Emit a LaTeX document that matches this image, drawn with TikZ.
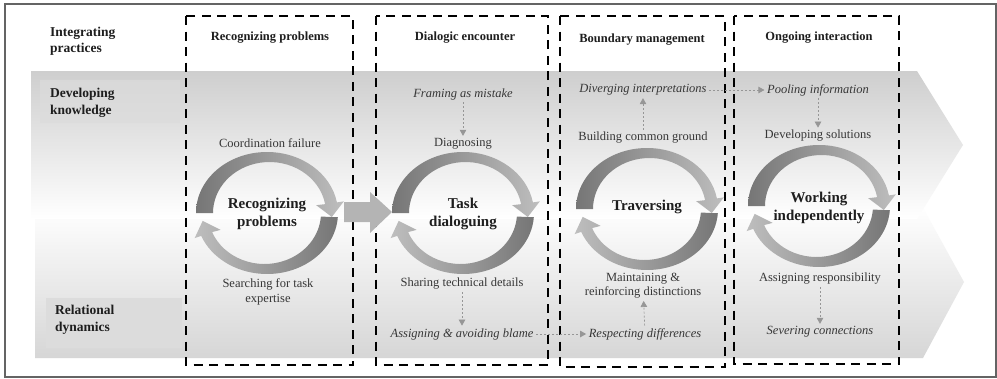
\documentclass[tikz,border=0pt]{standalone}
\usepackage{fontspec}
\setmainfont{Liberation Serif}
\usetikzlibrary{arrows.meta}
\definecolor{textdark}{RGB}{30,30,30}
\definecolor{textgray}{RGB}{55,55,55}
\definecolor{arcdark}{RGB}{118,118,118}
\definecolor{arclight}{RGB}{190,190,190}
\definecolor{bandgray}{RGB}{206,206,206}
\definecolor{bandlow}{RGB}{214,214,214}
\definecolor{boxgray}{RGB}{220,220,220}
\definecolor{dotgray}{RGB}{150,150,150}
\definecolor{bigarrow}{RGB}{180,180,180}
\definecolor{framegray}{RGB}{100,100,100}
\begin{document}
\begin{tikzpicture}[x=1pt,y=-1pt,
  txt/.style={font=\fontsize{12.5}{14.5}\selectfont, text=textgray, inner sep=1.5pt, align=center},
  itx/.style={font=\fontsize{12.5}{14.5}\selectfont\itshape, text=textgray, inner sep=1.5pt, align=center},
  hdr/.style={font=\fontsize{12.5}{15}\selectfont\bfseries, text=textdark, inner sep=1pt},
  lbl/.style={font=\fontsize{13.5}{16.5}\selectfont\bfseries, text=textdark, align=left, anchor=west, inner sep=0pt},
  inr/.style={font=\fontsize{15}{18}\selectfont\bfseries, text=textdark, align=center, inner sep=0pt},
  dashbox/.style={draw=black, line width=2.6pt, dash pattern=on 9pt off 6.5pt},
  dotarrow/.style={draw=dotgray, line width=0.7pt, dash pattern=on 2pt off 2pt,
     -{Triangle[width=6.5pt,length=6pt,fill=dotgray]}, shorten >=1pt, shorten <=1pt},
  ring/.pic={
    \shade[left color=arcdark, right color=arclight]
      (180:71 and 61) arc[start angle=180,end angle=350,x radius=71,y radius=61]
      -- (350:78 and 67) -- (364:65 and 57) -- (350:50 and 45)
      -- ([shift={(2.5,0)}]350:56.5 and 51)
      arc[start angle=350,end angle=180,x radius=56.5,y radius=51] -- cycle;
    \shade[left color=arclight, right color=arcdark]
      (4:71 and 61) arc[start angle=4,end angle=158,x radius=71,y radius=61]
      -- (158:78 and 67) -- (172:65 and 57) -- (158:50 and 45)
      -- ([shift={(-2.5,0)}]158:56.5 and 51)
      arc[start angle=158,end angle=4,x radius=56.5,y radius=51] -- cycle;
  }]
\useasboundingbox (0,0) rectangle (997,378);
\fill[white] (0,0) rectangle (997,378);

% background chevrons
\shade[top color=white, bottom color=bandlow]
  (35,206) -- (922,206) -- (964,282) -- (923,358) -- (35,358) -- cycle;
\shade[top color=bandgray, bottom color=white]
  (31,71) -- (917,71) -- (963,145) -- (917,219) -- (31,219) -- cycle;

% row label boxes
\fill[boxgray, opacity=0.7] (40,80) rectangle (180,123);
\fill[boxgray] (46,298) rectangle (182,348);

% outer frame
\draw[framegray, line width=1.3pt] (5,4) rectangle (996,377);

% row labels
\node[lbl] (ip) at (50,41.5) {Integrating\\practices};
\node[lbl] (dk) at (50,103) {Developing\\knowledge};
\node[lbl] (rd) at (55,320) {Relational\\dynamics};

% dashed columns
\draw[dashbox] (186,16) rectangle (353,365);
\draw[dashbox] (376,16) rectangle (548,365);
\draw[dashbox] (560,16) rectangle (725,367);
\draw[dashbox] (734,16) rectangle (899,364);

% headers
\node[hdr] (h1) at (270,38) {Recognizing problems};
\node[hdr] (h2) at (465,38) {Dialogic encounter};
\node[hdr] (h3) at (642,40) {Boundary management};
\node[hdr] (h4) at (819,38) {Ongoing interaction};

% cycles
\pic at (267,213) {ring};
\pic at (463,213) {ring};
\pic at (647,209) {ring};
\pic at (819,206) {ring};

% big arrow between first and second cycle
\fill[bigarrow] (344,202) -- (370,202) -- (370,192) -- (392,212) -- (370,233) -- (370,222) -- (344,222) -- cycle;

% cycle titles
\node[inr] (c1) at (267,214) {Recognizing\\problems};
\node[inr] (c2) at (463,214) {Task\\dialoguing};
\node[inr] (c3) at (647,207) {Traversing};
\node[inr] (c4) at (819,207.5) {Working\\independently};

% column 1
\node[txt] (cf) at (270,143) {Coordination failure};
\node[txt] (st) at (268,292) {Searching for task\\expertise};

% column 2
\node[itx] (fm) at (463,94) {Framing as mistake};
\node[txt] (dg) at (463,144) {Diagnosing};
\node[txt] (sh) at (462,284) {Sharing technical details};
\node[itx] (ab) at (462,334) {Assigning \& avoiding blame};

% column 3
\node[itx] (di) at (643,90) {Diverging interpretations};
\node[txt] (bc) at (643,138) {Building common ground};
\node[txt] (mr) at (643,285.5) {Maintaining \&\\reinforcing distinctions};
\node[itx] (rs) at (645,334) {Respecting differences};

% column 4
\node[itx] (pi) at (818,90) {Pooling information};
\node[txt] (ds) at (818,136) {Developing solutions};
\node[txt] (ar) at (820,279) {Assigning responsibility};
\node[itx] (sc) at (820,332) {Severing connections};

% dotted connectors
\draw[dotarrow] (fm) -- (dg);
\draw[dotarrow] (sh) -- (ab);
\draw[dotarrow] (ab) -- (rs);
\draw[dotarrow] (rs) -- (mr);
\draw[dotarrow] (bc) -- (di);
\draw[dotarrow] (di) -- (pi);
\draw[dotarrow] (pi) -- (ds);
\draw[dotarrow] (ar) -- (sc);
\end{tikzpicture}
\end{document}
